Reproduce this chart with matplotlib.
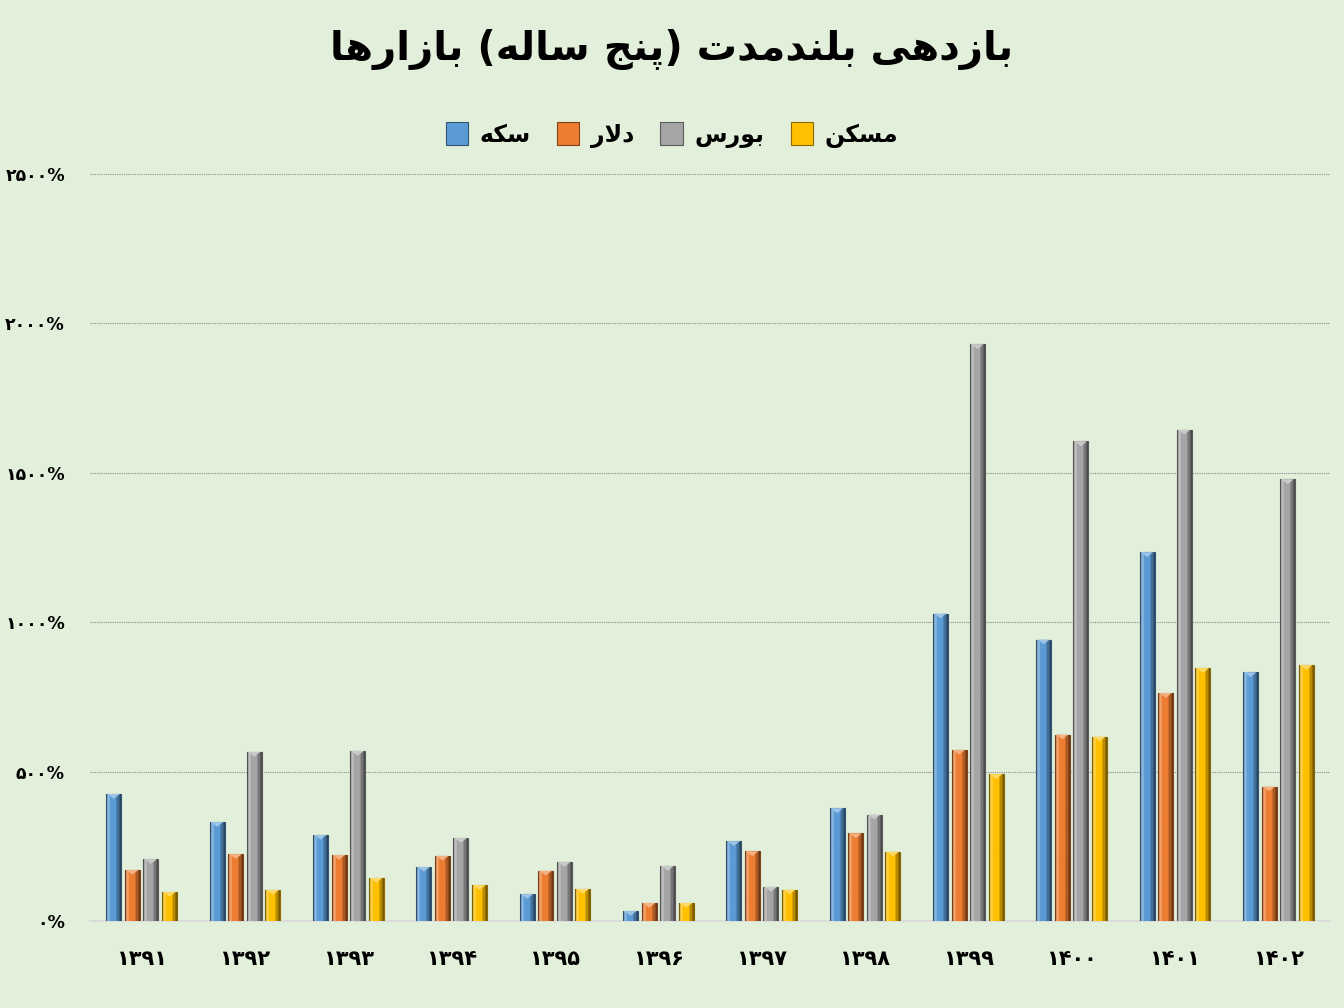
import numpy as np
import matplotlib
matplotlib.use("Agg")
import matplotlib.pyplot as plt
from matplotlib.patches import Polygon
import matplotlib.colors as mcolors

# ---------------- data ----------------
years = ["۱۳۹۱", "۱۳۹۲", "۱۳۹۳", "۱۳۹۴", "۱۳۹۵", "۱۳۹۶",
         "۱۳۹۷", "۱۳۹۸", "۱۳۹۹", "۱۴۰۰", "۱۴۰۱", "۱۴۰۲"]
series_names = ["سکه", "دلار", "بورس", "مسکن"]
coin    = [425, 331, 288, 181, 90, 33, 267, 377, 1029, 942, 1234, 832]
dollar  = [171, 224, 221, 218, 168, 60, 233, 293, 573, 624, 763, 450]
bourse  = [207, 566, 569, 278, 197, 184, 114, 356, 1930, 1605, 1644, 1478]
housing = [97, 104, 144, 120, 107, 60, 105, 232, 491, 617, 846, 856]
yticks = [0, 500, 1000, 1500, 2000, 2500]
ytick_labels = ["۰%", "۵۰۰%", "۱۰۰۰%", "۱۵۰۰%", "۲۰۰۰%", "۲۵۰۰%"]
title_text = "بازدهی بلندمدت (پنج ساله) بازارها"
colors = ["#5B9BD5", "#ED7D31", "#A5A5A5", "#FFC000"]
BG = "#E2EFDA"

# ------------- minimal Persian shaping -------------
FORMS = {  # iso, fin, ini, med
    "ا": ("\uFE8D", "\uFE8E", None, None),
    "ب": ("\uFE8F", "\uFE90", "\uFE91", "\uFE92"),
    "پ": ("\uFB56", "\uFB57", "\uFB58", "\uFB59"),
    "ت": ("\uFE95", "\uFE96", "\uFE97", "\uFE98"),
    "ج": ("\uFE9D", "\uFE9E", "\uFE9F", "\uFEA0"),
    "د": ("\uFEA9", "\uFEAA", None, None),
    "ر": ("\uFEAD", "\uFEAE", None, None),
    "ز": ("\uFEAF", "\uFEB0", None, None),
    "س": ("\uFEB1", "\uFEB2", "\uFEB3", "\uFEB4"),
    "ک": ("\uFB8E", "\uFB8F", "\uFB90", "\uFB91"),
    "ل": ("\uFEDD", "\uFEDE", "\uFEDF", "\uFEE0"),
    "م": ("\uFEE1", "\uFEE2", "\uFEE3", "\uFEE4"),
    "ن": ("\uFEE5", "\uFEE6", "\uFEE7", "\uFEE8"),
    "ه": ("\uFEE9", "\uFEEA", "\uFEEB", "\uFEEC"),
    "و": ("\uFEED", "\uFEEE", None, None),
    "ی": ("\uFBFC", "\uFBFD", "\uFBFE", "\uFBFF"),
}


def dual(c):
    return c in FORMS and FORMS[c][2] is not None


def shape(text):
    out = []
    chars = list(text)
    i = 0
    n = len(chars)
    while i < n:
        c = chars[i]
        if c not in FORMS:
            out.append(c)
            i += 1
            continue
        prev_join = i > 0 and dual(chars[i - 1])
        if c == "ل" and i + 1 < n and chars[i + 1] == "ا":
            out.append("\uFEFC" if prev_join else "\uFEFB")
            i += 2
            continue
        next_join = dual(c) and i + 1 < n and chars[i + 1] in FORMS
        iso, fin, ini, med = FORMS[c]
        if prev_join and next_join:
            out.append(med)
        elif prev_join:
            out.append(fin)
        elif next_join:
            out.append(ini)
        else:
            out.append(iso)
        i += 1
    s = "".join(out)[::-1]
    swap = {"(": ")", ")": "("}
    return "".join(swap.get(ch, ch) for ch in s)


plt.rcParams["font.family"] = ["DejaVu Sans"]

fig = plt.figure(figsize=(13.44, 10.08), dpi=100, facecolor=BG)
ax = fig.add_axes([90 / 1344, 87 / 1008, 1240 / 1344, 747 / 1008])
ax.set_facecolor(BG)

x = np.arange(len(years))
step = 0.18
width = 0.145
all_series = [coin, dollar, bourse, housing]


def adjust(col, f):
    r, g, b = mcolors.to_rgb(col)
    if f >= 0:
        return (r + (1 - r) * f, g + (1 - g) * f, b + (1 - b) * f)
    f = -f
    return (r * (1 - f), g * (1 - f), b * (1 - f))


def gradient_row(col, n=40):
    t = np.linspace(0, 1, n)
    row = []
    for v in t:
        if v < 0.07:
            f = -0.55
        elif v < 0.24:
            f = 0.28
        elif v < 0.70:
            f = 0.0
        elif v < 0.9:
            f = -0.28
        else:
            f = -0.55
        row.append(adjust(col, f))
    return np.array([row])


for k, (vals, col) in enumerate(zip(all_series, colors)):
    bars = ax.bar(x + (k - 1.5) * step, vals, width=width, color=col,
                  edgecolor=adjust(col, -0.45), linewidth=0.8, zorder=3,
                  label=shape(series_names[k]))
    grad = gradient_row(col)
    for b in bars:
        x0, w, h = b.get_x(), b.get_width(), b.get_height()
        im = ax.imshow(grad, extent=[x0, x0 + w, 0, h], aspect="auto",
                       zorder=3.5, interpolation="bilinear")
        im.set_clip_path(b)
        tri = Polygon([[x0 + w * 0.1, h], [x0 + w * 0.9, h], [x0 + w / 2, h - 16]],
                      closed=True, facecolor=adjust(col, 0.4), edgecolor="none",
                      zorder=4)
        ax.add_patch(tri)

ax.set_xlim(-0.5, len(years) - 0.5)
ax.set_ylim(0, 2500)
ax.set_yticks(yticks)
ax.set_yticklabels(ytick_labels, fontsize=12.5, fontweight="bold")
ax.set_xticks(x)
ax.set_xticklabels(years, fontsize=15, fontweight="bold")
ax.tick_params(axis="both", length=0)
ax.tick_params(axis="y", pad=18)
ax.tick_params(axis="x", pad=20)
ax.grid(axis="y", linestyle=(0, (1, 1)), color="#8C8C8C", linewidth=0.8, zorder=0)
for s in ["top", "right", "left"]:
    ax.spines[s].set_visible(False)
ax.spines["bottom"].set_color("#D9D9D9")
ax.spines["bottom"].set_linewidth(1.2)

fig.text(0.5, 1 - 50 / 1008, shape(title_text), ha="center", va="center",
         fontsize=29, fontweight="bold")

handles, labels = ax.get_legend_handles_labels()
leg = fig.legend(handles, labels, loc="center", bbox_to_anchor=(0.5, 1 - 135 / 1008),
                 ncol=4, frameon=False, prop={"size": 17, "weight": "bold"},
                 handlelength=0.95, handleheight=1.1, columnspacing=1.1,
                 handletextpad=0.5)

fig.savefig("out.png", dpi=100, facecolor=BG)
